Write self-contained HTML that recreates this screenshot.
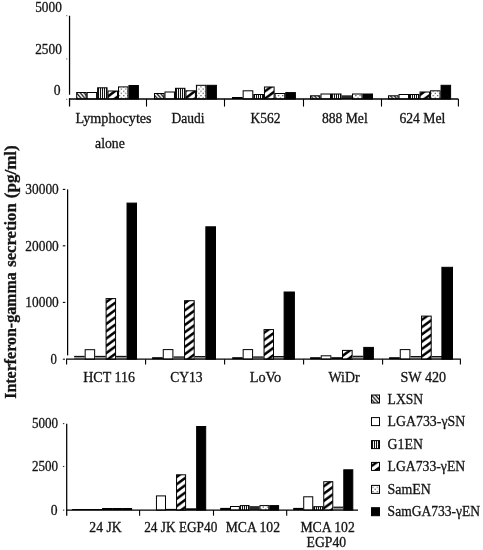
<!DOCTYPE html>
<html><head><meta charset="utf-8"><title>Interferon-gamma secretion</title>
<style>html,body{margin:0;padding:0;background:#fff}svg{display:block}text{font-family:"Liberation Serif","DejaVu Serif",serif;fill:#141414;stroke:#141414;stroke-width:0.3px}</style></head><body>
<svg width="483" height="550" viewBox="0 0 483 550">
<rect width="483" height="550" fill="#fff"/>
<defs>
<pattern id="pL" patternUnits="userSpaceOnUse" width="3.8" height="4.4"><rect width="3.8" height="4.4" fill="#fff"/><path d="M-3.8,-4.4 L7.6,8.8 M0,-4.4 L11.4,8.8 M-7.6,-4.4 L3.8,8.8" stroke="#000" stroke-width="1.2"/></pattern>
<pattern id="pV" patternUnits="userSpaceOnUse" width="2" height="4"><rect width="2" height="4" fill="#fff"/><rect x="0" width="1.05" height="4" fill="#111"/></pattern>
<pattern id="pD" patternUnits="userSpaceOnUse" width="10" height="7.3"><rect width="10" height="7.3" fill="#fff"/><path d="M-10,7.3 L10,-7.3 M0,7.3 L20,-7.3 M-10,14.6 L10,0 M0,14.6 L20,0" stroke="#000" stroke-width="2.45"/></pattern>
<pattern id="pS" patternUnits="userSpaceOnUse" width="4.3" height="4.4"><rect width="4.3" height="4.4" fill="#fff"/><rect x="0.5" y="0.5" width="1.2" height="1.1" fill="#444"/><rect x="2.65" y="2.7" width="1.2" height="1.1" fill="#444"/></pattern>
</defs>
<rect x="76.70" y="92.50" width="9.45" height="6.50" fill="url(#pL)" stroke="#000" stroke-width="1"/>
<rect x="87.15" y="92.50" width="9.45" height="6.50" fill="#fff" stroke="#000" stroke-width="1"/>
<rect x="97.60" y="87.80" width="9.45" height="11.20" fill="url(#pV)" stroke="#000" stroke-width="1"/>
<rect x="108.05" y="91.00" width="9.45" height="8.00" fill="url(#pD)" stroke="#000" stroke-width="1"/>
<rect x="118.50" y="86.90" width="9.45" height="12.10" fill="url(#pS)" stroke="#000" stroke-width="1"/>
<rect x="128.95" y="85.50" width="9.45" height="13.50" fill="#000" stroke="#000" stroke-width="1"/>
<rect x="154.50" y="93.50" width="9.48" height="5.50" fill="url(#pL)" stroke="#000" stroke-width="1"/>
<rect x="164.98" y="92.00" width="9.48" height="7.00" fill="#fff" stroke="#000" stroke-width="1"/>
<rect x="175.47" y="88.30" width="9.48" height="10.70" fill="url(#pV)" stroke="#000" stroke-width="1"/>
<rect x="185.95" y="90.80" width="9.48" height="8.20" fill="url(#pD)" stroke="#000" stroke-width="1"/>
<rect x="196.43" y="85.30" width="9.48" height="13.70" fill="url(#pS)" stroke="#000" stroke-width="1"/>
<rect x="206.92" y="85.30" width="9.48" height="13.70" fill="#000" stroke="#000" stroke-width="1"/>
<rect x="232.00" y="97.00" width="10.65" height="2.00" fill="#000"/>
<rect x="243.15" y="90.80" width="9.65" height="8.20" fill="#fff" stroke="#000" stroke-width="1"/>
<rect x="253.80" y="94.50" width="9.65" height="4.50" fill="url(#pV)" stroke="#000" stroke-width="1"/>
<rect x="264.45" y="87.00" width="9.65" height="12.00" fill="url(#pD)" stroke="#000" stroke-width="1"/>
<rect x="275.10" y="93.50" width="9.65" height="5.50" fill="url(#pS)" stroke="#000" stroke-width="1"/>
<rect x="285.75" y="92.60" width="9.65" height="6.40" fill="#000" stroke="#000" stroke-width="1"/>
<rect x="310.50" y="95.80" width="9.50" height="3.20" fill="url(#pL)" stroke="#000" stroke-width="1"/>
<rect x="321.00" y="94.00" width="9.50" height="5.00" fill="#fff" stroke="#000" stroke-width="1"/>
<rect x="331.50" y="94.00" width="9.50" height="5.00" fill="url(#pV)" stroke="#000" stroke-width="1"/>
<rect x="341.50" y="95.30" width="10.50" height="3.70" fill="#2a2a2a"/>
<rect x="352.50" y="94.00" width="9.50" height="5.00" fill="url(#pS)" stroke="#000" stroke-width="1"/>
<rect x="363.00" y="94.00" width="9.50" height="5.00" fill="#000" stroke="#000" stroke-width="1"/>
<rect x="388.50" y="95.80" width="9.52" height="3.20" fill="url(#pL)" stroke="#000" stroke-width="1"/>
<rect x="399.02" y="94.50" width="9.52" height="4.50" fill="#fff" stroke="#000" stroke-width="1"/>
<rect x="409.53" y="94.50" width="9.52" height="4.50" fill="url(#pV)" stroke="#000" stroke-width="1"/>
<rect x="420.05" y="92.00" width="9.52" height="7.00" fill="url(#pD)" stroke="#000" stroke-width="1"/>
<rect x="430.57" y="90.80" width="9.52" height="8.20" fill="url(#pS)" stroke="#000" stroke-width="1"/>
<rect x="441.08" y="85.30" width="9.52" height="13.70" fill="#000" stroke="#000" stroke-width="1"/>
<path d="M69.55,15.7 V94.7 M69.55,98.4 V106.6" stroke="#000" stroke-width="1.25" fill="none"/>
<path d="M68.95,99.0 H458.4" stroke="#000" stroke-width="1.3" fill="none"/>
<path d="M146.50,99.0 V106.6" stroke="#000" stroke-width="1.1" fill="none"/>
<path d="M224.50,99.0 V106.6" stroke="#000" stroke-width="1.1" fill="none"/>
<path d="M303.50,99.0 V106.6" stroke="#000" stroke-width="1.1" fill="none"/>
<path d="M381.50,99.0 V106.6" stroke="#000" stroke-width="1.1" fill="none"/>
<path d="M458.40,99.0 V106.6" stroke="#000" stroke-width="1.1" fill="none"/>
<text x="35.20" y="12.0" font-size="14" textLength="26.60" lengthAdjust="spacingAndGlyphs">5000</text>
<text x="35.20" y="54.2" font-size="14" textLength="26.60" lengthAdjust="spacingAndGlyphs">2500</text>
<text x="53.70" y="94.5" font-size="14" textLength="6.80" lengthAdjust="spacingAndGlyphs">0</text>
<rect x="66.14999999999999" y="15.2" width="1.2" height="1" fill="#666"/>
<rect x="66.14999999999999" y="58.4" width="1.2" height="1" fill="#666"/>
<rect x="66.14999999999999" y="98.8" width="1.2" height="1" fill="#666"/>
<text x="75.40" y="123.3" font-size="14" textLength="76.20" lengthAdjust="spacingAndGlyphs">Lymphocytes</text>
<text x="95.10" y="148.2" font-size="14" textLength="29.70" lengthAdjust="spacingAndGlyphs">alone</text>
<text x="171.50" y="123.3" font-size="14" textLength="33.00" lengthAdjust="spacingAndGlyphs">Daudi</text>
<text x="250.50" y="123.3" font-size="14" textLength="30.00" lengthAdjust="spacingAndGlyphs">K562</text>
<text x="321.90" y="123.3" font-size="14" textLength="45.80" lengthAdjust="spacingAndGlyphs">888 Mel</text>
<text x="399.40" y="123.3" font-size="14" textLength="45.90" lengthAdjust="spacingAndGlyphs">624 Mel</text>
<rect x="74.20" y="355.90" width="10.47" height="3.30" fill="#9a9a9a"/>
<rect x="74.20" y="355.90" width="10.47" height="1.1" fill="#111"/>
<rect x="85.17" y="349.70" width="9.47" height="9.50" fill="#fff" stroke="#000" stroke-width="1"/>
<rect x="95.13" y="355.90" width="10.47" height="3.30" fill="#9a9a9a"/>
<rect x="95.13" y="355.90" width="10.47" height="1.1" fill="#111"/>
<rect x="106.10" y="298.60" width="9.47" height="60.60" fill="url(#pD)" stroke="#000" stroke-width="1"/>
<rect x="116.07" y="355.90" width="10.47" height="3.30" fill="#9a9a9a"/>
<rect x="116.07" y="355.90" width="10.47" height="1.1" fill="#111"/>
<rect x="127.03" y="203.10" width="9.47" height="156.10" fill="#000" stroke="#000" stroke-width="1"/>
<rect x="152.10" y="357.20" width="10.65" height="2.00" fill="#000"/>
<rect x="163.25" y="349.60" width="9.65" height="9.60" fill="#fff" stroke="#000" stroke-width="1"/>
<rect x="173.40" y="356.50" width="10.65" height="2.70" fill="#9a9a9a"/>
<rect x="173.40" y="356.50" width="10.65" height="1.1" fill="#111"/>
<rect x="184.55" y="300.70" width="9.65" height="58.50" fill="url(#pD)" stroke="#000" stroke-width="1"/>
<rect x="194.70" y="356.00" width="10.65" height="3.20" fill="#9a9a9a"/>
<rect x="194.70" y="356.00" width="10.65" height="1.1" fill="#111"/>
<rect x="205.85" y="226.80" width="9.65" height="132.40" fill="#000" stroke="#000" stroke-width="1"/>
<rect x="232.20" y="357.20" width="10.45" height="2.00" fill="#000"/>
<rect x="243.15" y="349.60" width="9.45" height="9.60" fill="#fff" stroke="#000" stroke-width="1"/>
<rect x="253.10" y="356.50" width="10.45" height="2.70" fill="#9a9a9a"/>
<rect x="253.10" y="356.50" width="10.45" height="1.1" fill="#111"/>
<rect x="264.05" y="329.60" width="9.45" height="29.60" fill="url(#pD)" stroke="#000" stroke-width="1"/>
<rect x="274.00" y="356.00" width="10.45" height="3.20" fill="#9a9a9a"/>
<rect x="274.00" y="356.00" width="10.45" height="1.1" fill="#111"/>
<rect x="284.10" y="292.00" width="10.30" height="67.20" fill="#000" stroke="#000" stroke-width="1"/>
<rect x="310.10" y="357.20" width="10.63" height="2.00" fill="#000"/>
<rect x="321.23" y="355.80" width="9.63" height="3.40" fill="#fff" stroke="#000" stroke-width="1"/>
<rect x="331.37" y="357.20" width="10.63" height="2.00" fill="#000"/>
<rect x="342.50" y="350.40" width="9.63" height="8.80" fill="url(#pD)" stroke="#000" stroke-width="1"/>
<rect x="352.63" y="355.80" width="10.63" height="3.40" fill="#9a9a9a"/>
<rect x="352.63" y="355.80" width="10.63" height="1.1" fill="#111"/>
<rect x="363.77" y="347.40" width="9.63" height="11.80" fill="#000" stroke="#000" stroke-width="1"/>
<rect x="389.10" y="357.20" width="10.65" height="2.00" fill="#000"/>
<rect x="400.25" y="349.60" width="9.65" height="9.60" fill="#fff" stroke="#000" stroke-width="1"/>
<rect x="410.40" y="356.00" width="10.65" height="3.20" fill="#9a9a9a"/>
<rect x="410.40" y="356.00" width="10.65" height="1.1" fill="#111"/>
<rect x="421.55" y="316.10" width="9.65" height="43.10" fill="url(#pD)" stroke="#000" stroke-width="1"/>
<rect x="431.70" y="356.00" width="10.65" height="3.20" fill="#9a9a9a"/>
<rect x="431.70" y="356.00" width="10.65" height="1.1" fill="#111"/>
<rect x="441.90" y="267.30" width="10.60" height="91.90" fill="#000" stroke="#000" stroke-width="1"/>
<path d="M67.6,189.4 V355.4" stroke="#000" stroke-width="1.25" fill="none"/>
<path d="M66.0,359.2 H460.9" stroke="#000" stroke-width="1.3" fill="none"/>
<path d="M66.60,359.2 V364.40" stroke="#000" stroke-width="1.1" fill="none"/>
<path d="M145.60,359.2 V364.40" stroke="#000" stroke-width="1.1" fill="none"/>
<path d="M224.60,359.2 V364.40" stroke="#000" stroke-width="1.1" fill="none"/>
<path d="M303.60,359.2 V364.40" stroke="#000" stroke-width="1.1" fill="none"/>
<path d="M382.60,359.2 V364.40" stroke="#000" stroke-width="1.1" fill="none"/>
<path d="M460.40,359.2 V364.40" stroke="#000" stroke-width="1.1" fill="none"/>
<path d="M62.8,189.4 H65.3" stroke="#000" stroke-width="1.1" fill="none"/>
<path d="M62.8,245.8 H65.3" stroke="#000" stroke-width="1.1" fill="none"/>
<path d="M62.8,302.4 H65.3" stroke="#000" stroke-width="1.1" fill="none"/>
<path d="M62.8,359.2 H65.0" stroke="#000" stroke-width="1" fill="none"/>
<text x="25.30" y="194.20000000000002" font-size="14.4" textLength="33.50" lengthAdjust="spacingAndGlyphs">30000</text>
<text x="25.30" y="250.60000000000002" font-size="14.4" textLength="33.50" lengthAdjust="spacingAndGlyphs">20000</text>
<text x="25.30" y="307.2" font-size="14.4" textLength="33.50" lengthAdjust="spacingAndGlyphs">10000</text>
<text x="50.50" y="363.8" font-size="14.4" textLength="6.40" lengthAdjust="spacingAndGlyphs">0</text>
<text x="83.20" y="382.3" font-size="14.4" textLength="51.70" lengthAdjust="spacingAndGlyphs">HCT 116</text>
<text x="170.20" y="382.3" font-size="14.4" textLength="32.40" lengthAdjust="spacingAndGlyphs">CY13</text>
<text x="249.70" y="382.3" font-size="14.4" textLength="31.60" lengthAdjust="spacingAndGlyphs">LoVo</text>
<text x="328.50" y="382.3" font-size="14.4" textLength="31.20" lengthAdjust="spacingAndGlyphs">WiDr</text>
<text x="400.50" y="382.3" font-size="14.4" textLength="45.70" lengthAdjust="spacingAndGlyphs">SW 420</text>
<rect x="72.10" y="509.00" width="10.00" height="1.10" fill="#000"/>
<rect x="82.10" y="509.00" width="10.00" height="1.10" fill="#000"/>
<rect x="92.10" y="509.00" width="10.00" height="1.10" fill="#000"/>
<rect x="102.10" y="508.00" width="10.00" height="2.10" fill="#000"/>
<rect x="112.10" y="508.00" width="10.00" height="2.10" fill="#000"/>
<rect x="122.10" y="508.00" width="10.00" height="2.10" fill="#000"/>
<rect x="156.45" y="495.90" width="9.05" height="14.20" fill="#fff" stroke="#000" stroke-width="1"/>
<rect x="166.00" y="508.90" width="10.05" height="1.20" fill="#000"/>
<rect x="176.55" y="474.80" width="9.05" height="35.30" fill="url(#pD)" stroke="#000" stroke-width="1"/>
<rect x="186.10" y="508.30" width="10.05" height="1.80" fill="#000"/>
<rect x="196.65" y="426.50" width="9.05" height="83.60" fill="#000" stroke="#000" stroke-width="1"/>
<rect x="220.20" y="507.90" width="9.82" height="2.20" fill="#000"/>
<rect x="230.52" y="506.50" width="8.82" height="3.60" fill="#fff" stroke="#000" stroke-width="1"/>
<rect x="240.33" y="505.60" width="8.82" height="4.50" fill="url(#pV)" stroke="#000" stroke-width="1"/>
<rect x="249.65" y="506.10" width="9.82" height="4.00" fill="#2a2a2a"/>
<rect x="259.97" y="505.60" width="8.82" height="4.50" fill="url(#pS)" stroke="#000" stroke-width="1"/>
<rect x="269.78" y="505.60" width="8.82" height="4.50" fill="#000" stroke="#000" stroke-width="1"/>
<rect x="293.20" y="507.90" width="10.02" height="2.20" fill="#000"/>
<rect x="303.72" y="496.80" width="9.02" height="13.30" fill="#fff" stroke="#000" stroke-width="1"/>
<rect x="313.73" y="506.70" width="9.02" height="3.40" fill="url(#pV)" stroke="#000" stroke-width="1"/>
<rect x="323.75" y="481.70" width="9.02" height="28.40" fill="url(#pD)" stroke="#000" stroke-width="1"/>
<rect x="333.27" y="506.70" width="10.02" height="3.40" fill="#9a9a9a"/>
<rect x="333.27" y="506.70" width="10.02" height="1.1" fill="#111"/>
<rect x="343.78" y="469.80" width="9.02" height="40.30" fill="#000" stroke="#000" stroke-width="1"/>
<path d="M66.7,423.8 V515.7" stroke="#000" stroke-width="1.25" fill="none"/>
<path d="M66.10000000000001,510.1 H358.0" stroke="#000" stroke-width="1.3" fill="none"/>
<path d="M139.60,510.1 V515.7" stroke="#000" stroke-width="1.1" fill="none"/>
<path d="M213.50,510.1 V515.7" stroke="#000" stroke-width="1.1" fill="none"/>
<path d="M286.70,510.1 V515.7" stroke="#000" stroke-width="1.1" fill="none"/>
<rect x="62.9" y="423.05" width="1.4" height="1.1" fill="#333"/>
<rect x="62.9" y="465.95" width="1.4" height="1.1" fill="#333"/>
<rect x="63" y="509.6" width="1.3" height="1.1" fill="#333"/>
<text x="31.90" y="427.6" font-size="13.6" textLength="26.10" lengthAdjust="spacingAndGlyphs">5000</text>
<text x="31.90" y="471.1" font-size="13.6" textLength="26.10" lengthAdjust="spacingAndGlyphs">2500</text>
<text x="50.70" y="514.6" font-size="13.6" textLength="6.80" lengthAdjust="spacingAndGlyphs">0</text>
<text x="89.30" y="532" font-size="13.6" textLength="32.40" lengthAdjust="spacingAndGlyphs">24 JK</text>
<text x="144.20" y="532" font-size="13.6" textLength="73.10" lengthAdjust="spacingAndGlyphs">24 JK EGP40</text>
<text x="225.70" y="532" font-size="13.6" textLength="54.30" lengthAdjust="spacingAndGlyphs">MCA 102</text>
<text x="300.40" y="532" font-size="13.6" textLength="54.40" lengthAdjust="spacingAndGlyphs">MCA 102</text>
<text x="306.60" y="546.5" font-size="13.6" textLength="39.50" lengthAdjust="spacingAndGlyphs">EGP40</text>
<rect x="371.5" y="395.0" width="8" height="8" fill="url(#pL)" stroke="#000" stroke-width="1"/>
<text x="387.60" y="403.7" font-size="14.4" textLength="35.60" lengthAdjust="spacingAndGlyphs">LXSN</text>
<rect x="371.5" y="417.6" width="8" height="8" fill="#fff" stroke="#000" stroke-width="1"/>
<text x="387.60" y="426.3" font-size="14.4" textLength="77.60" lengthAdjust="spacingAndGlyphs">LGA733-γSN</text>
<rect x="371.5" y="440.6" width="8" height="8" fill="url(#pV)" stroke="#000" stroke-width="1"/>
<text x="387.60" y="449.3" font-size="14.4" textLength="35.30" lengthAdjust="spacingAndGlyphs">G1EN</text>
<rect x="371.5" y="462.4" width="8" height="8" fill="url(#pD)" stroke="#000" stroke-width="1"/>
<text x="387.60" y="471.09999999999997" font-size="14.4" textLength="77.60" lengthAdjust="spacingAndGlyphs">LGA733-γEN</text>
<rect x="371.5" y="485.4" width="8" height="8" fill="url(#pS)" stroke="#000" stroke-width="1"/>
<text x="387.60" y="494.09999999999997" font-size="14.4" textLength="43.30" lengthAdjust="spacingAndGlyphs">SamEN</text>
<rect x="371.5" y="507.7" width="8" height="8" fill="#000" stroke="#000" stroke-width="1"/>
<text x="387.60" y="516.4" font-size="14.4" textLength="92.50" lengthAdjust="spacingAndGlyphs">SamGA733-γEN</text>
<text transform="translate(15.5,398.8) rotate(-90)" font-size="17.2" font-weight="bold" stroke="none" textLength="126.5" lengthAdjust="spacingAndGlyphs">Interferon-gamma</text>
<text transform="translate(15.5,266.8) rotate(-90)" font-size="17.2" font-weight="bold" stroke="none" textLength="63.5" lengthAdjust="spacingAndGlyphs">secretion</text>
<text transform="translate(15.5,198.3) rotate(-90)" font-size="17.2" font-weight="bold" stroke="none" textLength="53.1" lengthAdjust="spacingAndGlyphs">(pg/ml)</text>
</svg></body></html>
